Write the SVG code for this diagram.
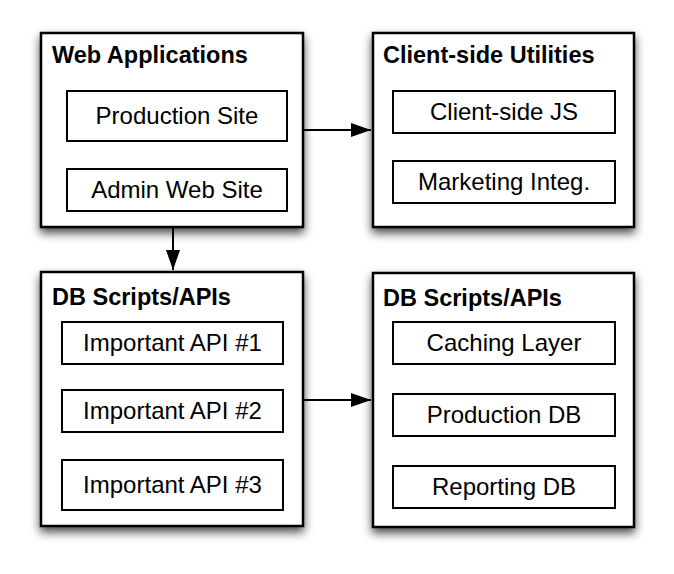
<svg xmlns="http://www.w3.org/2000/svg" width="674" height="574" viewBox="0 0 674 574">
<defs>
<filter id="sh" x="-15%" y="-15%" width="130%" height="140%">
<feDropShadow dx="0" dy="5" stdDeviation="5" flood-color="#000" flood-opacity="0.7"/>
</filter>
<marker id="ah" viewBox="0 0 20 14" refX="20" refY="7" markerWidth="20" markerHeight="14" markerUnits="userSpaceOnUse" orient="auto">
<path d="M0,0 L20,7 L0,14 Z" fill="#000"/>
</marker>
<style>
.outer{fill:#fff;stroke:#000;stroke-width:2.5;filter:url(#sh)}
.inner{fill:#fff;stroke:#000;stroke-width:2}
.title{font-family:"Liberation Sans",Arial,sans-serif;font-weight:bold;font-size:23.5px;fill:#000}
.lbl{font-family:"Liberation Sans",Arial,sans-serif;font-size:24px;fill:#000;text-anchor:middle}
.conn{stroke:#000;stroke-width:2;fill:none;marker-end:url(#ah)}
</style>
</defs>
<rect width="674" height="574" fill="#fff"/>
<g id="connectors">
<line class="conn" x1="303" y1="130" x2="371" y2="130"/>
<line class="conn" x1="173" y1="227" x2="173" y2="270"/>
<line class="conn" x1="303" y1="400" x2="371" y2="400"/>
</g>
<g id="web-applications">
<rect class="outer" x="41" y="33" width="262" height="194"/>
<text class="title" x="52" y="63">Web Applications</text>
<g id="production-site"><rect class="inner" x="67" y="91" width="220" height="50"/><text class="lbl" x="177" y="124">Production Site</text></g>
<g id="admin-web-site"><rect class="inner" x="67" y="169" width="220" height="42"/><text class="lbl" x="177" y="198">Admin Web Site</text></g>
</g>
<g id="client-side-utilities">
<rect class="outer" x="373" y="33" width="261" height="194"/>
<text class="title" x="383" y="63">Client-side Utilities</text>
<g id="client-side-js"><rect class="inner" x="393" y="91" width="222" height="42"/><text class="lbl" x="504" y="120">Client-side JS</text></g>
<g id="marketing-integ"><rect class="inner" x="393" y="161" width="222" height="42"/><text class="lbl" x="504" y="190">Marketing Integ.</text></g>
</g>
<g id="db-scripts-left">
<rect class="outer" x="41" y="272" width="262" height="254"/>
<text class="title" x="52" y="305">DB Scripts/APIs</text>
<g id="api-1"><rect class="inner" x="62" y="322" width="221" height="42"/><text class="lbl" x="172.5" y="351">Important API #1</text></g>
<g id="api-2"><rect class="inner" x="62" y="390" width="221" height="42"/><text class="lbl" x="172.5" y="419">Important API #2</text></g>
<g id="api-3"><rect class="inner" x="62" y="460" width="221" height="50"/><text class="lbl" x="172.5" y="493">Important API #3</text></g>
</g>
<g id="db-scripts-right">
<rect class="outer" x="373" y="273" width="261" height="254"/>
<text class="title" x="383" y="306">DB Scripts/APIs</text>
<g id="caching-layer"><rect class="inner" x="393" y="322" width="222" height="42"/><text class="lbl" x="504" y="351">Caching Layer</text></g>
<g id="production-db"><rect class="inner" x="393" y="394" width="222" height="42"/><text class="lbl" x="504" y="423">Production DB</text></g>
<g id="reporting-db"><rect class="inner" x="393" y="466" width="222" height="42"/><text class="lbl" x="504" y="495">Reporting DB</text></g>
</g>
</svg>
